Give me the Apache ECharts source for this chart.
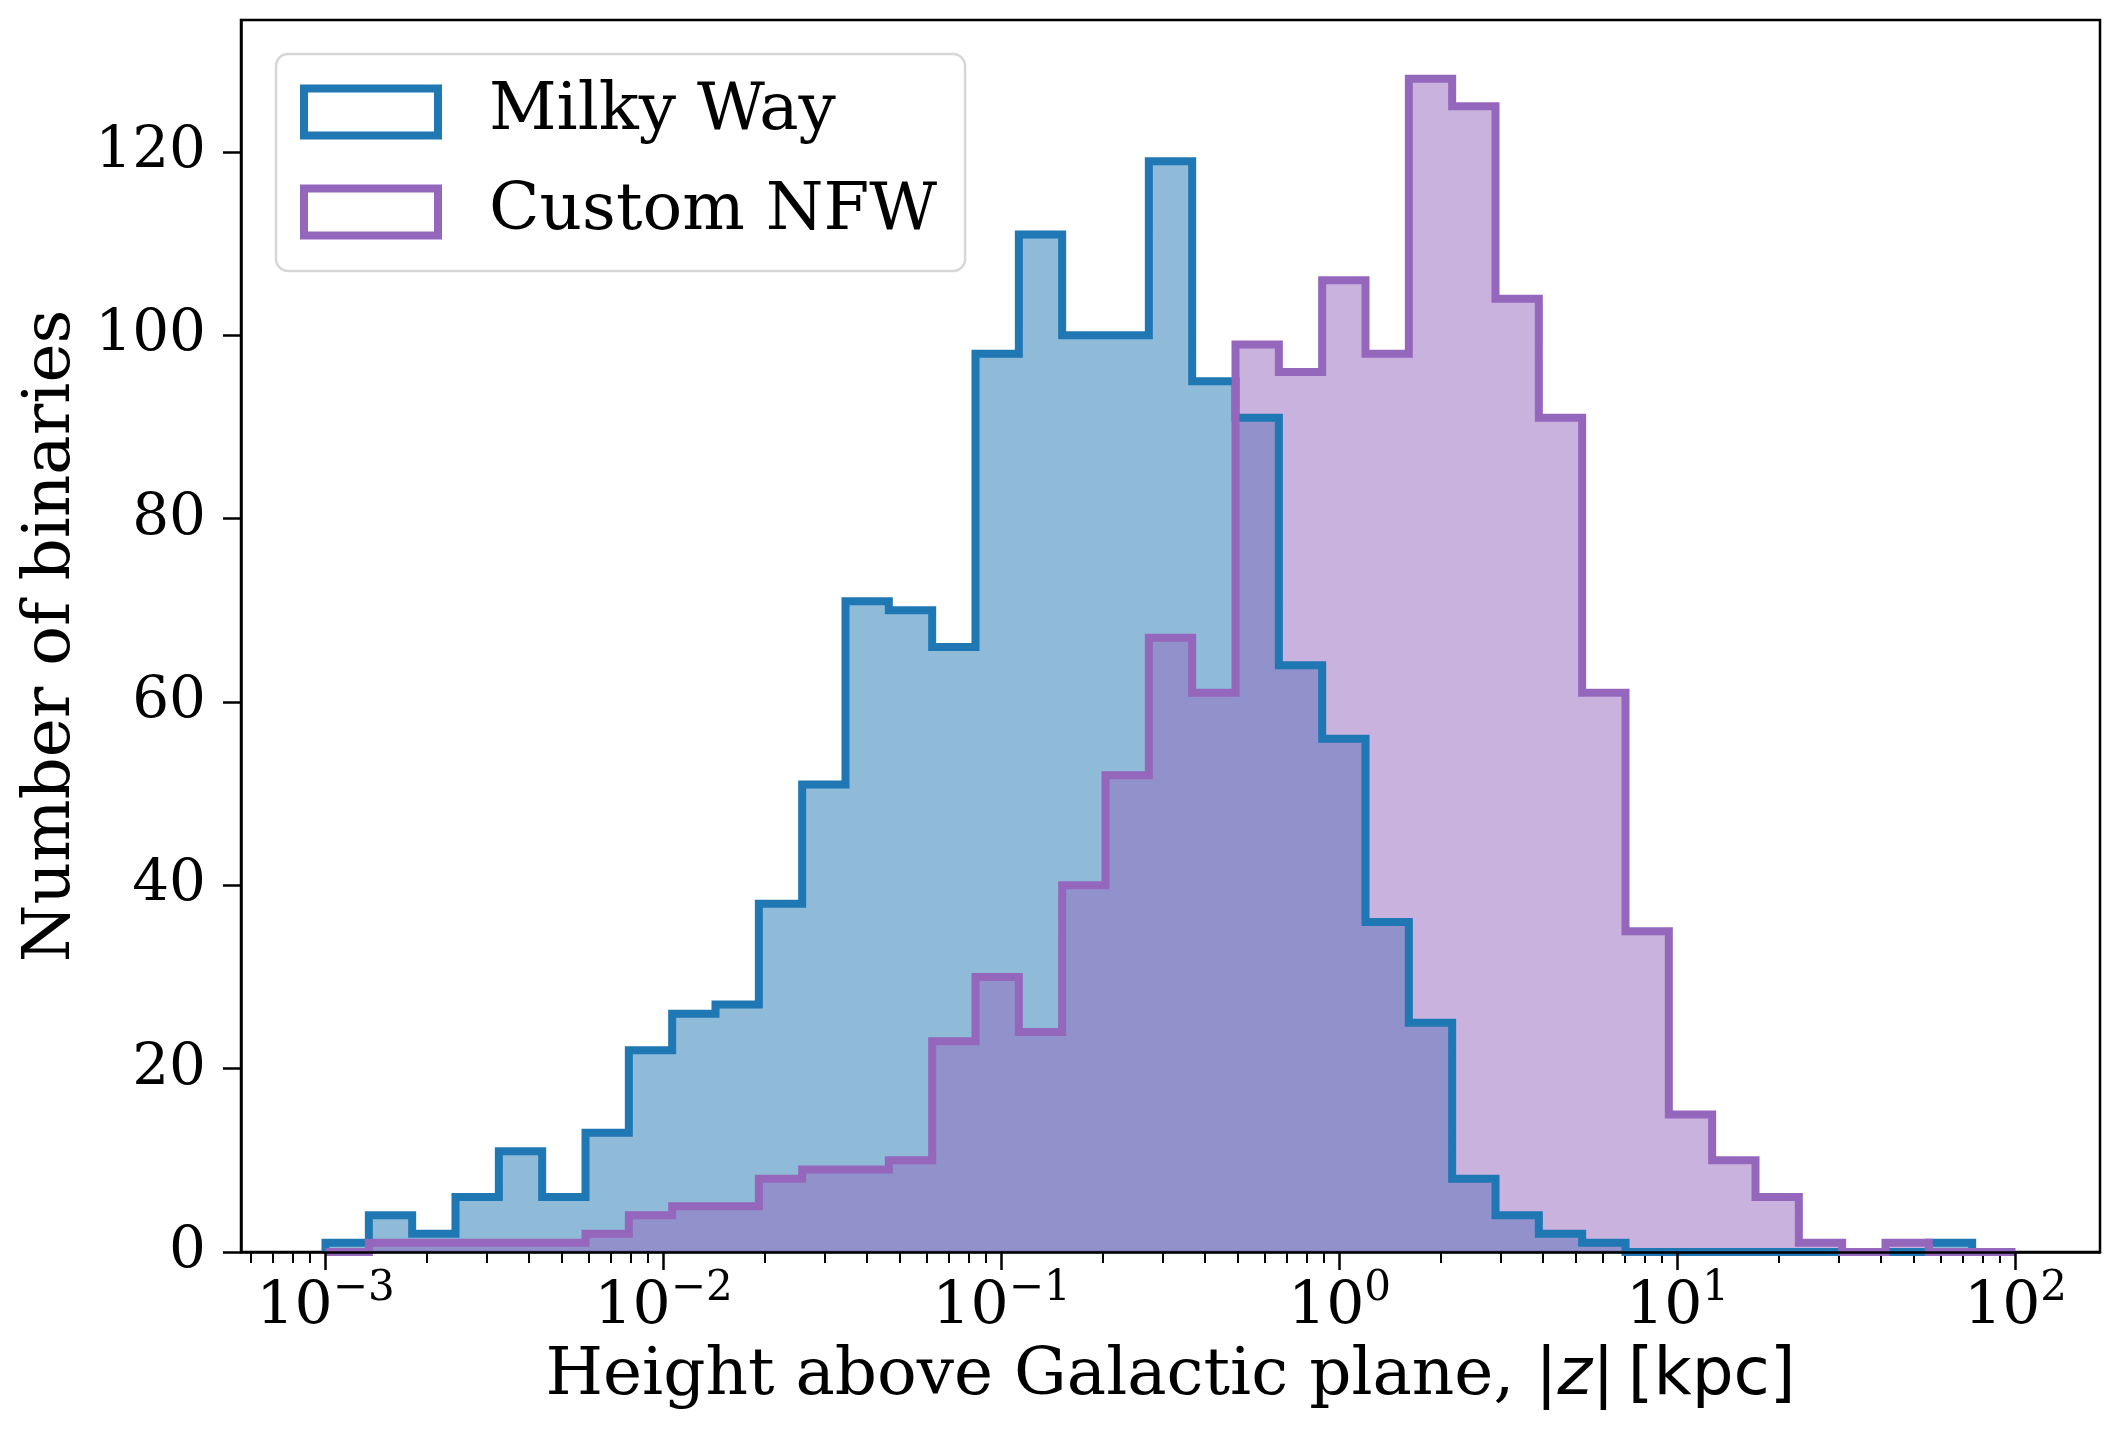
<!DOCTYPE html>
<html>
<head>
<meta charset="utf-8">
<script src="https://cdn.jsdelivr.net/npm/echarts@6/dist/echarts.min.js"></script>
<style>html,body{margin:0;padding:0;background:#fff}</style>
</head>
<body>
<div id="chart" style="width:2120px;height:1442px"></div>
<script>
// histogram bins: 39 equal bins in log10|z| from 1e-3 to 1e2 kpc
var logMin = -3, logMax = 2, nBins = 39;
// counts per bin (Milky Way stops one bin early)
var milkyWay = [1, 4, 2, 6, 11, 6, 13, 22, 26, 27, 38, 51, 71, 70, 66, 98, 111, 100, 100, 119,
                95, 91, 64, 56, 36, 25, 8, 4, 2, 1, 0, 0, 0, 0, 0, 0, 0, 1];
var customNFW = [0, 1, 1, 1, 1, 1, 2, 4, 5, 5, 8, 9, 9, 10, 23, 30, 24, 40, 52, 67,
                 61, 99, 96, 106, 98, 128, 125, 104, 91, 61, 35, 15, 10, 6, 1, 0, 1, 0, 0];
var yTicks = [0, 20, 40, 60, 80, 100, 120];
var xDecades = [-3, -2, -1, 0, 1, 2];

var serif = 'DejaVu Serif';

var edges = [];
for (var i = 0; i <= nBins; i++) edges.push(logMin + (logMax - logMin) * i / nBins);

// outline of a step histogram, in log10 x units
function stepPoints(counts) {
    var pts = [[edges[0], 0]];
    for (var i = 0; i < counts.length; i++) {
        pts.push([edges[i], counts[i]]);
        pts.push([edges[i + 1], counts[i]]);
    }
    pts.push([edges[counts.length], 0]);
    return pts;
}

var xMin = -3.25, xMax = 2.25;
var minorTicks = [];
for (var n = -4; n <= 2; n++) {
    for (var k = 2; k <= 9; k++) {
        var v = n + Math.log10(k);
        if (v > xMin && v < xMax) minorTicks.push(v);
    }
}

var myChart = echarts.init(document.getElementById('chart'));

var option = {
    animation: false,
    backgroundColor: '#fff',
    grid: {
        left: 241, right: 20, top: 20, bottom: 190,
        show: true, borderColor: '#000', borderWidth: 2.5, backgroundColor: 'transparent'
    },
    legend: {
        orient: 'vertical',
        left: 276, top: 54,
        backgroundColor: '#fff',
        borderColor: '#d6d6d6', borderWidth: 2.5, borderRadius: 12,
        padding: [23, 28, 24, 24],
        itemWidth: 134, itemHeight: 47, itemGap: 30,
        icon: 'rect',
        textStyle: { fontFamily: serif, fontSize: 66, color: '#000', lineHeight: 62, padding: [8, 0, 0, 46] },
        data: [
            { name: 'Milky Way', icon: 'rect', itemStyle: { color: '#fff', borderColor: '#1f77b4', borderWidth: 8 } },
            { name: 'Custom NFW', icon: 'rect', itemStyle: { color: '#fff', borderColor: '#9467bd', borderWidth: 8 } }
        ]
    },
    xAxis: [{
        type: 'value', min: xMin, max: xMax, position: 'bottom', z: 10,
        splitLine: { show: false },
        axisLine: { show: true, onZero: false, lineStyle: { color: '#000', width: 2.5 } },
        axisTick: { show: true, customValues: xDecades, length: 18, lineStyle: { color: '#000', width: 2.5 } },
        axisLabel: {
            customValues: xDecades, margin: 16,
            formatter: function (v) {
                var e = Math.round(v);
                return '{b|10}{s|' + (e < 0 ? '\u2212' + (-e) : e) + '}';
            },
            rich: {
                b: { fontFamily: serif, fontSize: 60, color: '#000', verticalAlign: 'bottom' },
                s: { fontFamily: serif, fontSize: 42, color: '#000', verticalAlign: 'bottom', padding: [0, 0, 28, 0] }
            }
        },
        name: '{t|Height above Galactic plane, }{m||}{i|z}{m||\u2009[kpc]}',
        nameLocation: 'middle', nameGap: 92,
        nameTextStyle: {
            rich: {
                t: { fontFamily: serif, fontSize: 66, color: '#000' },
                m: { fontFamily: 'DejaVu Sans', fontSize: 66, color: '#000' },
                i: { fontFamily: 'DejaVu Sans', fontStyle: 'italic', fontSize: 66, color: '#000' }
            }
        }
    }, {
        type: 'value', min: xMin, max: xMax, position: 'bottom',
        splitLine: { show: false },
        axisLine: { show: false, onZero: false },
        axisLabel: { show: false },
        axisTick: { show: true, customValues: minorTicks, length: 11, lineStyle: { color: '#000', width: 2 } }
    }],
    yAxis: {
        type: 'value', min: 0, max: 134.4,
        splitLine: { show: false },
        axisLine: { show: true, onZero: false, lineStyle: { color: '#000', width: 2.5 } },
        axisTick: { show: true, customValues: yTicks, length: 18, lineStyle: { color: '#000', width: 2.5 } },
        axisLabel: { customValues: yTicks, margin: 35, fontFamily: serif, fontSize: 58, color: '#000' },
        name: 'Number of binaries',
        nameLocation: 'middle', nameGap: 155,
        nameTextStyle: { fontFamily: serif, fontSize: 66, color: '#000' }
    },
    series: [{
        name: 'Milky Way fill', type: 'line', data: stepPoints(milkyWay),
        symbol: 'none', silent: true,
        lineStyle: { width: 0, opacity: 0 },
        areaStyle: { color: '#1f77b4', opacity: 0.5, origin: 'start' }
    }, {
        name: 'Custom NFW fill', type: 'line', data: stepPoints(customNFW),
        symbol: 'none', silent: true,
        lineStyle: { width: 0, opacity: 0 },
        areaStyle: { color: '#9467bd', opacity: 0.5, origin: 'start' }
    }, {
        name: 'Milky Way', type: 'line', data: stepPoints(milkyWay),
        symbol: 'none', color: '#1f77b4',
        lineStyle: { color: '#1f77b4', width: 8, join: 'miter', cap: 'butt' }
    }, {
        name: 'Custom NFW', type: 'line', data: stepPoints(customNFW),
        symbol: 'none', color: '#9467bd',
        lineStyle: { color: '#9467bd', width: 8, join: 'miter', cap: 'butt' }
    }]
};
myChart.setOption(option);
</script>
</body>
</html>
